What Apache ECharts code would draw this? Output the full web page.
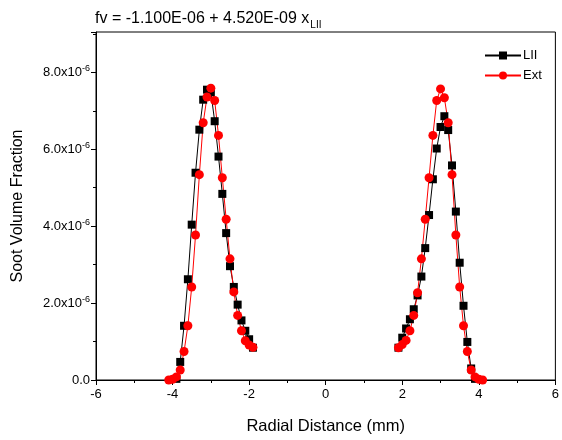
<!DOCTYPE html>
<html>
<head>
<meta charset="utf-8">
<script src="https://cdn.jsdelivr.net/npm/echarts@6/dist/echarts.min.js"></script>
<style>
  html, body { margin: 0; padding: 0; background: #fff; }
  #chart { width: 562px; height: 440px; }
</style>
</head>
<body>
<div id="chart"></div>
<script>
// radial positions (mm) and soot volume fraction (units of 1e-6)
const liiXLeft  = [-3.9, -3.8, -3.7, -3.6, -3.5, -3.4, -3.3, -3.2, -3.1, -3.0, -2.9, -2.8, -2.7, -2.6, -2.5, -2.4, -2.3, -2.2, -2.1, -2.0, -1.9];
const liiLeft   = [0.03, 0.47, 1.41, 2.62, 4.04, 5.39, 6.51, 7.29, 7.55, 7.48, 6.73, 5.81, 4.84, 3.82, 2.96, 2.42, 1.96, 1.55, 1.28, 1.06, 0.84];
const liiXRight = [1.9, 2.0, 2.1, 2.2, 2.3, 2.4, 2.5, 2.6, 2.7, 2.8, 2.9, 3.0, 3.1, 3.2, 3.3, 3.4, 3.5, 3.6, 3.7, 3.8, 3.9];
const liiRight  = [0.84, 1.10, 1.34, 1.58, 1.84, 2.20, 2.69, 3.43, 4.29, 5.22, 6.02, 6.58, 6.86, 6.50, 5.58, 4.38, 3.05, 1.93, 0.99, 0.30, 0.03];

const extXLeft  = [-4.1, -4.0, -3.9, -3.8, -3.7, -3.6, -3.5, -3.4, -3.3, -3.2, -3.1, -3.0, -2.9, -2.8, -2.7, -2.6, -2.5, -2.4, -2.3, -2.2, -2.1, -2.0, -1.9];
const extLeft   = [0.00, 0.02, 0.08, 0.26, 0.74, 1.41, 2.42, 3.77, 5.34, 6.69, 7.36, 7.59, 7.27, 6.36, 5.26, 4.18, 3.15, 2.29, 1.68, 1.28, 1.02, 0.91, 0.85];
const extXRight = [1.9, 2.0, 2.1, 2.2, 2.3, 2.4, 2.5, 2.6, 2.7, 2.8, 2.9, 3.0, 3.1, 3.2, 3.3, 3.4, 3.5, 3.6, 3.7, 3.8, 3.9, 4.0, 4.1];
const extRight  = [0.84, 0.92, 1.03, 1.28, 1.68, 2.27, 3.15, 4.18, 5.26, 6.36, 7.27, 7.57, 7.34, 6.69, 5.34, 3.77, 2.42, 1.41, 0.74, 0.26, 0.08, 0.02, 0.00];

// join the two flanks with a gap so the line breaks in the middle
const pairs = (xs, ys) => xs.map((x, i) => [x, ys[i]]);
const withGap = (a, b) => a.concat([null], b);

const liiData = withGap(pairs(liiXLeft, liiLeft), pairs(liiXRight, liiRight));
const extData = withGap(pairs(extXLeft, extLeft), pairs(extXRight, extRight));

const font = "Liberation Sans, Arial, sans-serif";

const chart = echarts.init(document.getElementById("chart"), null, { renderer: "canvas" });

const option = {
  animation: false,
  backgroundColor: "#fff",
  textStyle: { fontFamily: font, color: "#000" },
  title: {
    text: "{a|fv = -1.100E-06 + 4.520E-09 x}{s|LII}",
    left: 90,
    top: 3,
    textStyle: {
      fontWeight: "normal",
      rich: {
        a: { fontFamily: font, fontSize: 16, fontWeight: "normal", color: "#000", lineHeight: 22 },
        s: { fontFamily: font, fontSize: 10, fontWeight: "normal", color: "#000", verticalAlign: "bottom", padding: [9, 0, 0, 1] },
      },
    },
  },
  legend: {
    orient: "vertical",
    left: 479,
    top: 44,
    itemWidth: 36,
    itemHeight: 10,
    itemGap: 7,
    textStyle: { fontFamily: font, fontSize: 13, color: "#000", padding: [0, 0, 0, -3] },
    data: ["LII", "Ext"],
  },
  grid: {
    left: 96,
    right: 3,
    top: 32,
    bottom: 58,
    show: true,
    borderColor: "#000",
    borderWidth: 1,
    backgroundColor: "transparent",
  },
  xAxis: {
    type: "value",
    min: -6,
    max: 6,
    interval: 2,
    name: "Radial Distance (mm)",
    nameLocation: "middle",
    nameGap: 38,
    nameTextStyle: { fontFamily: font, fontSize: 16.5, color: "#000" },
    axisLine: { onZero: false, lineStyle: { color: "#000", width: 1 } },
    axisTick: { length: 5, lineStyle: { color: "#000" } },
    minorTick: { show: true, splitNumber: 2, length: 3, lineStyle: { color: "#000" } },
    axisLabel: { fontFamily: font, fontSize: 13, color: "#000", margin: 8 },
    splitLine: { show: false },
  },
  yAxis: {
    type: "value",
    min: 0,
    max: 9.05,
    interval: 2,
    name: "Soot Volume Fraction",
    nameLocation: "middle",
    nameGap: 70,
    nameTextStyle: { fontFamily: font, fontSize: 16, color: "#000" },
    axisLine: { onZero: false, lineStyle: { color: "#000", width: 1 } },
    axisTick: { length: 5, lineStyle: { color: "#000" } },
    minorTick: { show: true, splitNumber: 2, length: 3, lineStyle: { color: "#000" } },
    splitLine: { show: false },
    axisLabel: {
      showMaxLabel: false,
      margin: 6,
      formatter: (v) => {
        if (Math.abs(v - Math.round(v / 2) * 2) > 1e-6) return "";
        if (v === 0) return "{a|0.0}";
        return "{a|" + v.toFixed(1) + "x10}{s|-6}";
      },
      rich: {
        a: { fontFamily: font, fontSize: 13, color: "#000", lineHeight: 16 },
        s: { fontFamily: font, fontSize: 9, color: "#000", verticalAlign: "top", padding: [0, 0, 8, 0] },
      },
    },
  },
  series: [
    {
      name: "LII",
      type: "line",
      data: liiData,
      connectNulls: false,
      symbol: "rect",
      symbolSize: 8,
      itemStyle: { color: "#000" },
      lineStyle: { color: "#000", width: 1 },
    },
    {
      name: "Ext",
      type: "line",
      data: extData,
      connectNulls: false,
      symbol: "circle",
      symbolSize: 9,
      itemStyle: { color: "#ff0000" },
      lineStyle: { color: "#ff0000", width: 1 },
    },
  ],
};

chart.setOption(option);
</script>
</body>
</html>
